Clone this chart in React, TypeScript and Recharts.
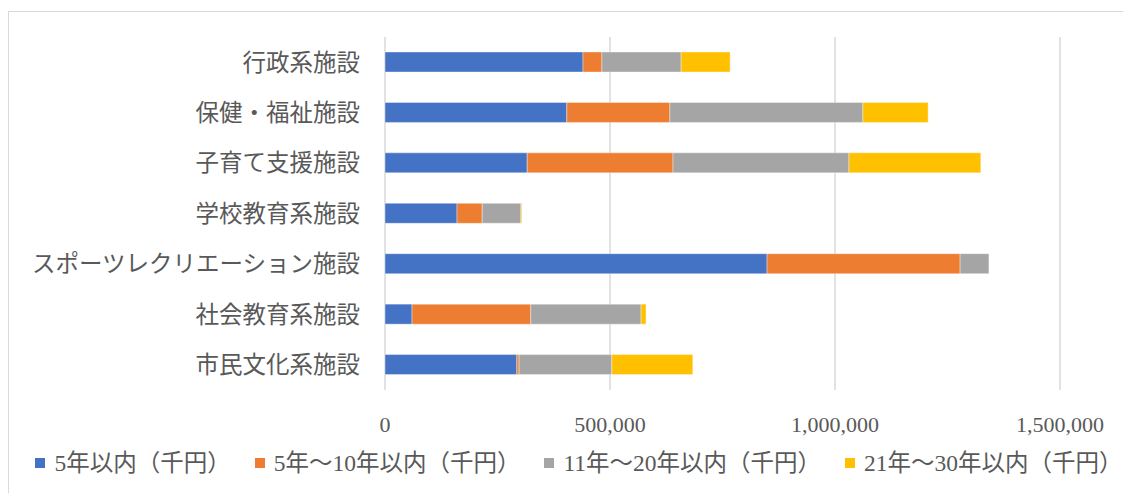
import { BarChart, Bar, XAxis, YAxis, CartesianGrid } from 'recharts';

const categories = [
  '行政系施設',
  '保健・福祉施設',
  '子育て支援施設',
  '学校教育系施設',
  'スポーツレクリエーション施設',
  '社会教育系施設',
  '市民文化系施設',
];

const within5 = [440000, 404000, 316000, 160000, 849000, 60000, 293000];
const y5to10 = [42000, 229000, 324000, 56000, 429000, 264000, 5000];
const y11to20 = [176000, 429000, 391000, 86000, 64000, 245000, 206000];
const y21to30 = [109000, 145000, 293000, 2000, 0, 11000, 180000];

const seriesNames = ['5年以内（千円）', '5年～10年以内（千円）', '11年～20年以内（千円）', '21年～30年以内（千円）'];
const COLORS = ['#4472C4', '#ED7D31', '#A5A5A5', '#FFC000'];
const xTicks = [0, 500000, 1000000, 1500000];

const data = categories.map((name, i) => ({
  name,
  s0: within5[i],
  s1: y5to10[i],
  s2: y11to20[i],
  s3: y21to30[i],
}));

const FONT = "'Liberation Serif', 'Noto Sans CJK JP', serif";

export default function App() {
  return (
    <div
      style={{
        position: 'relative',
        marginTop: 3,
        width: 1120,
        height: 490,
        border: '1px solid #d9d9d9',
        background: '#fff',
        fontFamily: FONT,
      }}
    >
      <BarChart
        width={1120}
        height={440}
        data={data}
        layout="vertical"
        margin={{ top: 25, right: 69, bottom: 0, left: 0 }}
        barSize={20}
      >
        <CartesianGrid horizontal={false} stroke="#d9d9d9" strokeWidth={1.5} />
        <XAxis
          type="number"
          domain={[0, 1500000]}
          ticks={xTicks}
          tickFormatter={(v: number) => v.toLocaleString('en-US')}
          axisLine={false}
          tickLine={false}
          tickSize={0}
          tickMargin={26}
          height={62}
          interval={0}
          tick={{ fill: '#595959', fontSize: 22, fontFamily: FONT }}
        />
        <YAxis
          type="category"
          dataKey="name"
          width={376}
          axisLine={false}
          tickLine={false}
          tickSize={0}
          tickMargin={25}
          interval={0}
          tick={{ fill: '#595959', fontSize: 23.5, fontFamily: FONT }}
        />
        {seriesNames.map((n, i) => (
          <Bar
            key={n}
            dataKey={`s${i}`}
            name={n}
            stackId="a"
            fill={COLORS[i]}
            stroke="#ffffff"
            strokeOpacity={0.5}
            strokeWidth={0.75}
            isAnimationActive={false}
          />
        ))}
      </BarChart>
      <div
        style={{
          position: 'absolute',
          left: 10,
          top: 437,
          width: 1120,
          display: 'flex',
          justifyContent: 'center',
          gap: 24,
          color: '#595959',
          fontSize: 23.5,
          lineHeight: '28px',
        }}
      >
        {seriesNames.map((n, i) => (
          <div key={n} style={{ display: 'flex', alignItems: 'center' }}>
            <span style={{ width: 10, height: 10, background: COLORS[i], marginRight: 9, display: 'inline-block' }} />
            <span>{n}</span>
          </div>
        ))}
      </div>
    </div>
  );
}
